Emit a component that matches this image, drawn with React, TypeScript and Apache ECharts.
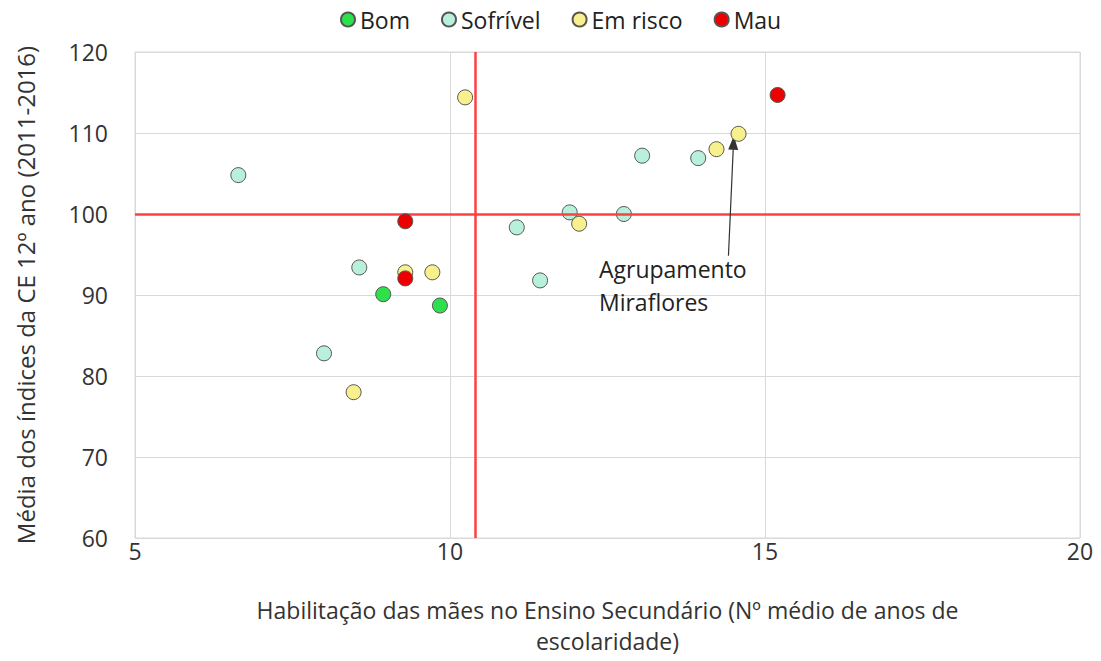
import React, { useEffect, useRef } from "react";
import * as echarts from "echarts";

const seriesNames = ["Bom", "Sofrível", "Em risco", "Mau"];
const seriesColors = ["#2ee04a", "#b8f0dc", "#f8f08c", "#ee0000"];

const bom: number[][] = [
  [8.94, 90.1],
  [9.84, 88.7],
];
const sofrivel: number[][] = [
  [6.64, 104.8],
  [8.56, 93.4],
  [8.0, 82.8],
  [11.06, 98.35],
  [11.9, 100.2],
  [11.43, 91.8],
  [12.76, 100.0],
  [13.05, 107.2],
  [13.94, 106.9],
];
const emRisco: number[][] = [
  [9.29, 92.8],
  [9.72, 92.8],
  [8.47, 78.0],
  [10.24, 114.4],
  [12.05, 98.8],
  [14.23, 108.0],
  [14.58, 109.9],
];
const mau: number[][] = [
  [9.29, 99.1],
  [9.29, 92.05],
  [15.2, 114.7],
];

const refX = 10.4;
const refY = 100;
const arrowFrom = [14.42, 94.85];
const arrowTo = [14.5, 108.8];
const annotationText = "Agrupamento\nMiraflores";
const annotationAnchor = [14.42, 95.8];

const xTicks = { min: 5, max: 20, interval: 5 };
const yTicks = { min: 60, max: 120, interval: 10 };

const FONT = "'Open Sans', Lato, sans-serif";

export default function App() {
  const ref = useRef<HTMLDivElement>(null);
  useEffect(() => {
    document.body.style.margin = "0";
    const chart = echarts.init(ref.current!, undefined, { renderer: "svg" });
    const datasets = [bom, sofrivel, emRisco, mau];
    const series: any[] = datasets.map((d, i) => ({
      name: seriesNames[i],
      type: "scatter",
      data: d,
      symbolSize: 15,
      z: 3 + i,
      itemStyle: {
        color: seriesColors[i],
        borderColor: "#555",
        borderWidth: 1,
        opacity: 1,
      },
    }));
    series.push({
      name: "ref",
      type: "scatter",
      data: [],
      z: 2,
      markLine: {
        silent: true,
        symbol: ["none", "none"],
        label: { show: false },
        lineStyle: { color: "#ff4040", width: 2.5, type: "solid" },
        data: [{ xAxis: refX }, { yAxis: refY }],
      },
    });
    series.push({
      name: "arrow",
      type: "scatter",
      data: [],
      z: 10,
      markLine: {
        silent: true,
        symbol: ["none", "triangle"],
        symbolSize: [10, 14],
        label: { show: false },
        lineStyle: { color: "#333", width: 1.2, type: "solid" },
        data: [[{ coord: arrowFrom }, { coord: arrowTo }]],
      },
    });
    series.push({
      name: "annot",
      type: "scatter",
      data: [],
      markPoint: {
        symbol: "rect",
        symbolSize: 1,
        itemStyle: { color: "transparent" },
        label: {
          show: true,
          position: "right",
          formatter: annotationText,
          color: "#222",
          fontSize: 23,
          fontFamily: FONT,
          lineHeight: 33,
          align: "left",
          verticalAlign: "top",
          offset: [-135, 4],
        },
        data: [{ coord: annotationAnchor }],
      },
    });

    chart.setOption({
      animation: false,
      textStyle: { fontFamily: FONT },
      legend: {
        top: 3,
        left: 335,
        data: seriesNames.map((n) => ({ name: n, icon: "circle" })),
        itemWidth: 14,
        itemHeight: 14,
        itemGap: 31,
        textStyle: { fontSize: 23, color: "#222", fontFamily: FONT },
      },
      grid: {
        left: 135,
        right: 21,
        top: 52,
        bottom: 123,
        show: true,
        borderColor: "#d9d9d9",
        borderWidth: 1,
      },
      xAxis: {
        type: "value",
        min: xTicks.min,
        max: xTicks.max,
        interval: xTicks.interval,
        name: "Habilitação das mães no Ensino Secundário (Nº médio de anos de\nescolaridade)",
        nameLocation: "middle",
        nameGap: 56,
        nameTextStyle: { fontSize: 23, color: "#333", lineHeight: 31, fontFamily: FONT },
        axisLine: { show: false },
        axisTick: { show: false },
        axisLabel: { fontSize: 23, color: "#333", margin: 1, fontFamily: FONT },
        splitLine: { lineStyle: { color: "#d9d9d9" } },
      },
      yAxis: {
        type: "value",
        min: yTicks.min,
        max: yTicks.max,
        interval: yTicks.interval,
        name: "Média dos índices da CE 12º ano (2011-2016)",
        nameLocation: "middle",
        nameGap: 98,
        nameTextStyle: { fontSize: 24, color: "#333", fontFamily: FONT },
        axisLine: { show: false },
        axisTick: { show: false },
        axisLabel: { fontSize: 23, color: "#333", margin: 27, fontFamily: FONT },
        splitLine: { lineStyle: { color: "#d9d9d9" } },
      },
      series,
    });
    return () => chart.dispose();
  }, []);
  return <div ref={ref} style={{ width: 1101, height: 661 }} />;
}
